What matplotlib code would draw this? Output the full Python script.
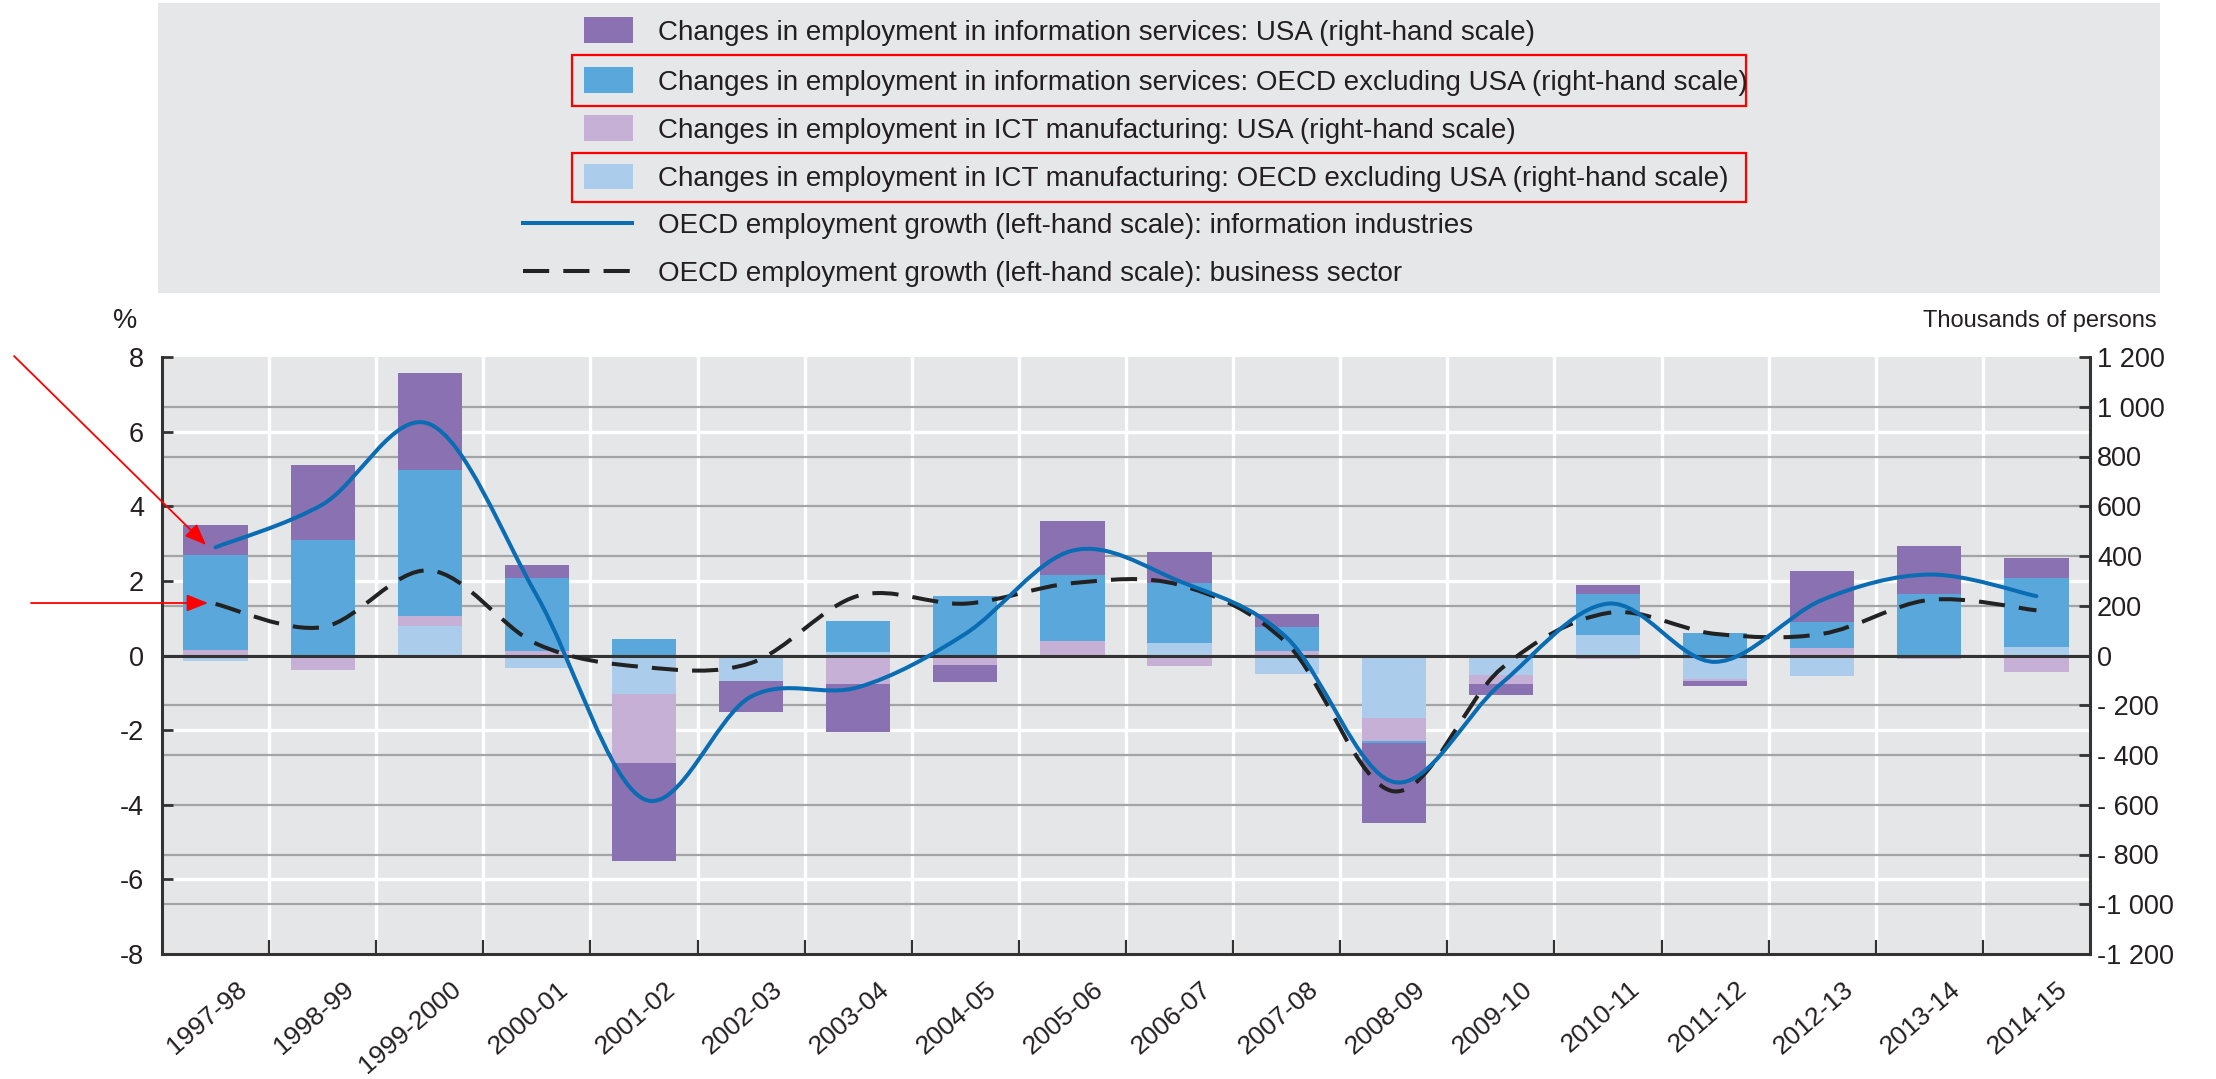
import numpy as np
import matplotlib
matplotlib.use("Agg")
import matplotlib.pyplot as plt
from matplotlib.path import Path
from matplotlib.patches import PathPatch, Rectangle, FancyArrowPatch
from matplotlib.lines import Line2D
from matplotlib.ticker import FixedLocator
from matplotlib.transforms import ScaledTranslation

plt.rcParams["font.family"] = ["Liberation Sans", "DejaVu Sans"]

# ---- data ----
years = ["1997-98", "1998-99", "1999-2000", "2000-01", "2001-02", "2002-03",
         "2003-04", "2004-05", "2005-06", "2006-07", "2007-08", "2008-09",
         "2009-10", "2010-11", "2011-12", "2012-13", "2013-14", "2014-15"]

# changes in employment, thousands of persons (right-hand scale)
ict_oecd = [-24, 0, 117, -49, -153, -103, 15, 0, 0, 50, -74, -252, -80, 83, -93, -83, 0, 33]
ict_usa = [22, -60, 41, 17, -280, 0, -116, -38, 57, -41, 17, -90, -33, -15, -8, 32, -15, -66]
is_oecd = [383, 465, 586, 294, 67, 0, 125, 241, 267, 241, 98, -8, 0, 166, 90, 101, 249, 280]
is_usa = [120, 300, 393, 52, -394, -124, -193, -70, 216, 125, 51, -324, -47, 35, -23, 208, 193, 78]

# OECD employment growth, % (left-hand scale)
growth_info = [2.9, 4.05, 6.2, 1.6, -3.85, -1.1, -0.85, 0.58, 2.81, 1.99, 0.48, -3.39,
               -0.76, 1.39, -0.17, 1.49, 2.17, 1.59]
growth_business = [1.38, 0.76, 2.28, 0.31, -0.31, -0.2, 1.6, 1.39, 1.94, 1.89, 0.33, -3.64,
                   -0.36, 1.14, 0.58, 0.58, 1.49, 1.21]

left_ticks = [-8, -6, -4, -2, 0, 2, 4, 6, 8]
left_labels = ["-8", "-6", "-4", "-2", "0", "2", "4", "6", "8"]
right_ticks = [-1200, -1000, -800, -600, -400, -200, 0, 200, 400, 600, 800, 1000, 1200]
right_labels = ["-1 200", "-1 000", "- 800", "- 600", "- 400", "- 200", "0",
                "200", "400", "600", "800", "1 000", "1 200"]

legend_labels = [
    "Changes in employment in information services: USA (right-hand scale)",
    "Changes in employment in information services: OECD excluding USA (right-hand scale)",
    "Changes in employment in ICT manufacturing: USA (right-hand scale)",
    "Changes in employment in ICT manufacturing: OECD excluding USA (right-hand scale)",
    "OECD employment growth (left-hand scale): information industries",
    "OECD employment growth (left-hand scale): business sector",
]

# ---- styles ----
C_PURPLE = "#8a72b2"
C_BLUE = "#5aa7db"
C_LPURPLE = "#c6b0d5"
C_LBLUE = "#abcdeb"
C_LINE = "#0a6cb3"
C_DASH = "#222222"
BG = "#e5e6e8"
GRID = "#a3a4a6"
TXT = "#231f20"
FS = 19.5

W, H = 2216, 1079


def fx(x):
    return x / W


def fy(y):
    return 1 - y / H


def smooth_path(xs, ys):
    # courbe lissée (Catmull-Rom -> Bezier) qui passe par les points
    pts = np.column_stack([xs, ys]).astype(float)
    n = len(pts)
    verts = [pts[0]]
    codes = [Path.MOVETO]
    for i in range(n - 1):
        p0 = pts[max(i - 1, 0)]
        p1 = pts[i]
        p2 = pts[i + 1]
        p3 = pts[min(i + 2, n - 1)]
        verts += [p1 + (p2 - p0) / 6, p2 - (p3 - p1) / 6, p2]
        codes += [Path.CURVE4] * 3
    return Path(verts, codes)


fig = plt.figure(figsize=(W / 100, H / 100), dpi=100)

L, R, T, B = 162, 2090, 357, 954
ax = fig.add_axes([fx(L), fy(B), (R - L) / W, (B - T) / H])
ax.set_facecolor(BG)

x = np.arange(len(years))

### --- stacked bars (right-hand scale) ---
series = [(ict_oecd, C_LBLUE), (ict_usa, C_LPURPLE), (is_oecd, C_BLUE), (is_usa, C_PURPLE)]
pos_base = np.zeros(len(x))
neg_base = np.zeros(len(x))
for vals, col in series:
    v = np.array(vals, dtype=float)
    bottom = np.where(v >= 0, pos_base, neg_base)
    ax.bar(x, v, 0.6, bottom=bottom, color=col, linewidth=0, zorder=2)
    pos_base += np.clip(v, 0, None)
    neg_base += np.clip(v, None, 0)

ax.set_xlim(-0.5, len(x) - 0.5)
ax.set_ylim(-1200, 1200)
ax.set_axisbelow(True)

ax2 = ax.twinx()
ax2.set_ylim(-8, 8)
ax.yaxis.tick_right()
ax2.yaxis.tick_left()

# right axis
ax.set_yticks(right_ticks)
ax.set_yticklabels(right_labels)
ax.yaxis.set_minor_locator(FixedLocator([-900, -300, 300, 900]))
ax.tick_params(axis="y", which="major", direction="in", length=8, width=2,
               color="#333333", labelsize=FS, labelcolor=TXT, pad=5)
ax.tick_params(axis="y", which="minor", length=0)
ax.yaxis.grid(True, which="major", color=GRID, lw=1.6)
ax.yaxis.grid(True, which="minor", color="white", lw=2.4)
for gl, loc in zip(ax.yaxis.get_gridlines(), right_ticks):
    if abs(loc) == 1200:
        gl.set_visible(False)

# x axis
ax.set_xticks(x)
ax.set_xticklabels(years, rotation=41, ha="right", va="center", rotation_mode="anchor")
ax.xaxis.set_minor_locator(FixedLocator(np.arange(0.5, len(x) - 1, 1.0)))
ax.tick_params(axis="x", which="major", length=0, labelsize=19, labelcolor=TXT, pad=23)
ax.tick_params(axis="x", which="minor", direction="in", length=10, width=1.6, color="#333333")
ax.xaxis.grid(True, which="minor", color="white", lw=2.4)
shift = ScaledTranslation(28 / 100, 0, fig.dpi_scale_trans)
for lab in ax.get_xticklabels():
    lab.set_transform(lab.get_transform() + shift)

for side in ["left", "right", "bottom"]:
    ax.spines[side].set_color("#333333")
    ax.spines[side].set_linewidth(2.2)
ax.spines["top"].set_visible(False)
for side in ax2.spines:
    ax2.spines[side].set_visible(False)

# left axis
ax2.set_yticks(left_ticks)
ax2.set_yticklabels(left_labels)
ax2.tick_params(axis="y", direction="in", length=8, width=2, color="#333333",
                labelsize=FS, labelcolor=TXT, pad=13)

### --- lines (left-hand scale) ---
ax2.axhline(0, color="#333333", lw=2.2, zorder=1)
ax2.add_patch(PathPatch(smooth_path(x, growth_business), fill=False, edgecolor=C_DASH,
                        lw=2.9, linestyle=(0, (6.5, 3.5)), zorder=3))
ax2.add_patch(PathPatch(smooth_path(x, growth_info), fill=False, edgecolor=C_LINE,
                        lw=2.9, zorder=4, capstyle="round"))

fig.text(fx(125), fy(321), "%", ha="center", va="center", size=FS, color=TXT)
fig.text(fx(2157), fy(321), "Thousands of persons", ha="right", va="center", size=17, color=TXT)

### --- legend ---
fig.add_artist(Rectangle((fx(158), fy(293)), fx(2160) - fx(158), fy(3) - fy(293),
                         transform=fig.transFigure, facecolor="#e6e7e9", edgecolor="none", zorder=0))
rows_y = [30, 80, 128, 176, 223, 271]
patch_cols = [C_PURPLE, C_BLUE, C_LPURPLE, C_LBLUE]
for i, lab in enumerate(legend_labels):
    yc = rows_y[i]
    if i < 4:
        fig.add_artist(Rectangle((fx(584), fy(yc + 12.5)), fx(633) - fx(584), fy(yc - 12.5) - fy(yc + 12.5),
                                 transform=fig.transFigure, facecolor=patch_cols[i], edgecolor="none"))
    elif i == 4:
        fig.add_artist(Line2D([fx(523), fx(632)], [fy(yc), fy(yc)], transform=fig.transFigure,
                              color=C_LINE, lw=2.9))
    else:
        fig.add_artist(Line2D([fx(523), fx(632)], [fy(yc), fy(yc)], transform=fig.transFigure,
                              color=C_DASH, lw=2.9, linestyle=(0, (6.5, 3.5))))
    fig.text(fx(658), fy(yc + 10), lab, ha="left", va="baseline", size=20, color=TXT)

# cadres et flèches rouges
for y0, y1 in [(55, 106), (153, 202)]:
    fig.add_artist(Rectangle((fx(572), fy(y1)), fx(1746) - fx(572), fy(y0) - fy(y1),
                             transform=fig.transFigure, facecolor="none", edgecolor="#ff0000", lw=1.6))
for (xa, ya), (xb, yb) in [((14, 356), (206, 545)), ((31, 603), (208, 603))]:
    fig.add_artist(FancyArrowPatch((fx(xa), fy(ya)), (fx(xb), fy(yb)), transform=fig.transFigure,
                                   arrowstyle="-|>,head_length=1.0,head_width=0.4", mutation_scale=13,
                                   color="#ff0000", lw=1.3, shrinkA=0, shrinkB=0))

fig.savefig("out.png", dpi=100)
